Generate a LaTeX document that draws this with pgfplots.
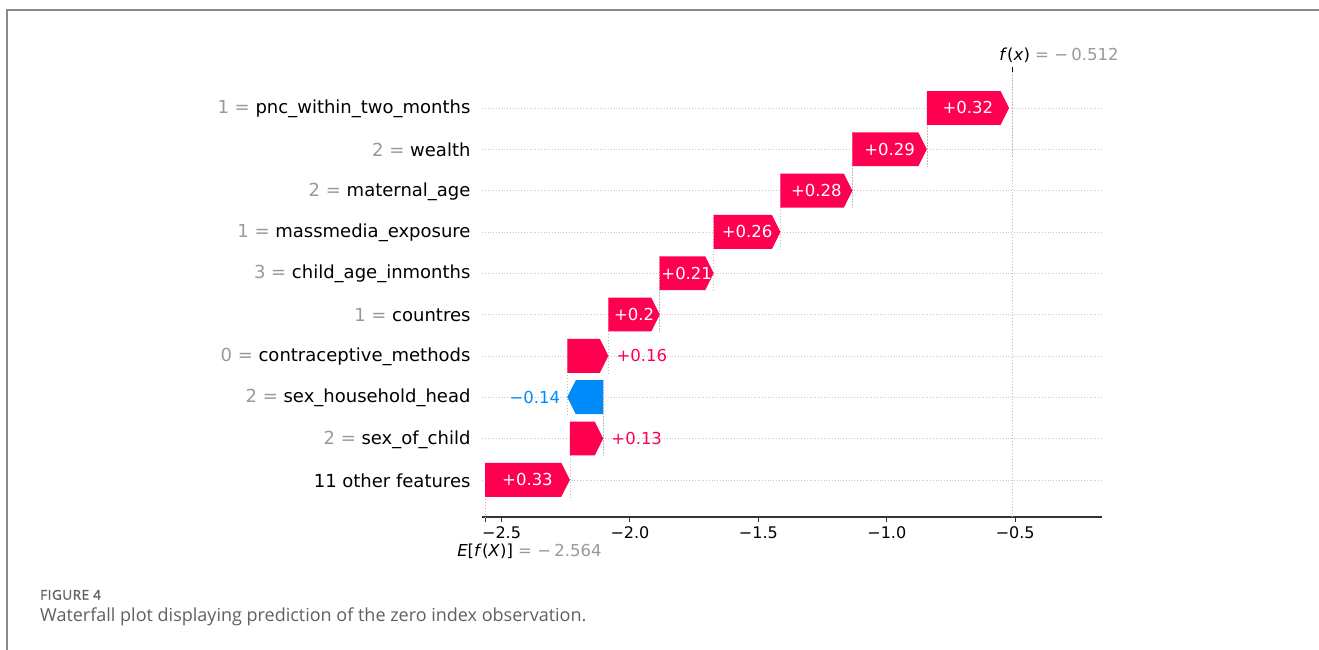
\documentclass[border=0pt]{standalone}
\usepackage{fontspec}
\setmainfont{DejaVu Sans}
\newfontfamily\capfamily{Open Sans}
\newfontfamily\capheadfamily[FakeBold=1.5, LetterSpace=4]{Open Sans}
\usepackage{pgfplots}
\usepackage{pgfplotstable}
\pgfplotsset{compat=1.18}

\definecolor{shapred}{HTML}{FF0051}
\definecolor{shapblue}{HTML}{008BFB}
\definecolor{valgray}{HTML}{999999}
\definecolor{linegray}{HTML}{BBBBBB}
\definecolor{gridgray}{HTML}{C8C8C8}
\definecolor{axisgray}{HTML}{333333}
\definecolor{framegray}{HTML}{8C8C8C}
\definecolor{capgray}{HTML}{606060}

\newcommand\rowfont{\fontsize{18}{21}\selectfont}
\newcommand\tickfont{\fontsize{16}{19}\selectfont}
\newcommand\valfont{\fontsize{16.5}{19}\selectfont}
\newcommand\capsmall{\capheadfamily\fontsize{13.5}{15}\selectfont}
\newcommand\capbig{\capfamily\fontsize{18}{21}\selectfont}

% SHAP contributions, bottom row (0) to top row (9)
% inside = 1: value printed inside the bar, 0: printed beside it
\pgfplotstableread{
row shap  inside txt
0   0.33  1      +0.33
1   0.13  0      +0.13
2   -0.14 0      −0.14
3   0.16  0      +0.16
4   0.20  1      +0.2
5   0.21  1      +0.21
6   0.26  1      +0.26
7   0.28  1      +0.28
8   0.29  1      +0.29
9   0.32  1      +0.32
}\shapdata

\def\basevalue{-2.564}
\def\fxvalue{-0.512}
\def\headlen{0.033}
\def\halfbar{0.41}

\tikzset{
  vallabel/.style={font=\valfont, inner sep=0pt},
}

\begin{document}
\begin{tikzpicture}
\path[use as bounding box] (0pt,0pt) rectangle (1319pt,-650pt);
\draw[framegray, line width=1.8pt] (7pt,-651pt) -- (7pt,-10pt) -- (1320pt,-10pt);

\begin{axis}[
  at={(482pt,-517pt)}, anchor=south west,
  scale only axis, width=620pt, height=445pt,
  xmin=-2.576, xmax=-0.162, ymin=-0.9, ymax=9.87,
  axis x line*=bottom, axis y line*=left,
  y axis line style={draw=none},
  x axis line style={color=axisgray, line width=1.3pt, -},
  xtick={-2.5,-2,-1.5,-1,-0.5},
  xticklabels={−2.5,−2.0,−1.5,−1.0,−0.5},
  extra x ticks={-2.564}, extra x tick labels={},
  xtick style={color=axisgray, line width=0.9pt},
  xtick align=outside,
  major tick length=4.5pt,
  xticklabel style={font=\tickfont, text=black, yshift=-2pt},
  ytick={0,...,9},
  yticklabels={
    {11 other features},
    {\textcolor{valgray}{2 = }sex\_of\_child},
    {\textcolor{valgray}{2 = }sex\_household\_head},
    {\textcolor{valgray}{0 = }contraceptive\_methods},
    {\textcolor{valgray}{1 = }countres},
    {\textcolor{valgray}{3 = }child\_age\_inmonths},
    {\textcolor{valgray}{1 = }massmedia\_exposure},
    {\textcolor{valgray}{2 = }maternal\_age},
    {\textcolor{valgray}{2 = }wealth},
    {\textcolor{valgray}{1 = }pnc\_within\_two\_months}},
  ytick style={draw=none},
  yticklabel style={font=\rowfont, text=black, anchor=east, xshift=-8pt, yshift=-1pt},
  ymajorgrids,
  major grid style={gridgray, line width=0.6pt, dash pattern=on 0.8pt off 2pt},
  clip=false,
]

% connector lines at the start of every bar
\def\cur{\basevalue}
\pgfplotsforeachungrouped \i in {0,...,9}{%
  \pgfplotstablegetelem{\i}{shap}\of\shapdata
  \let\v\pgfplotsretval
  \pgfmathsetmacro\s{\cur}%
  \pgfmathsetmacro\e{\cur+\v}%
  \pgfmathsetmacro\hi{\i+\halfbar}%
  \ifnum\i=0
    \def\lo{-0.9}%
  \else
    \pgfmathsetmacro\lo{\i-1-\halfbar}%
  \fi
  \edef\cmd{\noexpand\addplot[linegray, line width=0.6pt,
      dash pattern=on 1.5pt off 1.5pt, forget plot]
      coordinates {(\s,\hi) (\s,\lo)};}%
  \cmd
  \let\cur\e
}

% output value line
\addplot[linegray, line width=0.6pt, dash pattern=on 1.5pt off 1.5pt, forget plot]
  coordinates {(\fxvalue,-0.9) (\fxvalue,9.87)};

% arrow-shaped bars with their value labels
\def\cur{\basevalue}
\pgfplotsforeachungrouped \i in {0,...,9}{%
  \pgfplotstablegetelem{\i}{shap}\of\shapdata
  \let\v\pgfplotsretval
  \pgfplotstablegetelem{\i}{inside}\of\shapdata
  \let\ins\pgfplotsretval
  \pgfplotstablegetelem{\i}{txt}\of\shapdata
  \let\txt\pgfplotsretval
  \pgfmathsetmacro\s{\cur}%
  \pgfmathsetmacro\e{\cur+\v}%
  \pgfmathsetmacro\sg{\v<0 ? -1 : 1}%
  \pgfmathsetmacro\t{\e-\sg*\headlen}%
  \pgfmathsetmacro\lo{\i-\halfbar}%
  \pgfmathsetmacro\hi{\i+\halfbar}%
  \pgfmathsetmacro\m{(\s+\e)/2}%
  \ifdim\sg pt<0pt \def\col{shapblue}\else\def\col{shapred}\fi
  \edef\cmd{\noexpand\addplot[fill=\col, draw=none, forget plot]
      coordinates {(\s,\lo) (\t,\lo) (\e,\i) (\t,\hi) (\s,\hi) (\s,\lo)};}%
  \cmd
  \ifnum\ins=1
    \edef\cmd{\noexpand\node[vallabel, text=white, anchor=center]
        at (axis cs:\m,\i) {\txt};}%
  \else
    \ifdim\sg pt<0pt
      \edef\cmd{\noexpand\node[vallabel, text=\col, anchor=east, xshift=-7pt]
          at (axis cs:\e,\i) {\txt};}%
    \else
      \edef\cmd{\noexpand\node[vallabel, text=\col, anchor=west, xshift=8pt]
          at (axis cs:\e,\i) {\txt};}%
    \fi
  \fi
  \cmd
  \let\cur\e
}

% output tick and labels for f(x) and E[f(X)]
\draw[black, line width=0.9pt] (axis cs:\fxvalue,9.87) -- ++(0pt,5pt);
\node[anchor=west, inner sep=0pt, font=\valfont, xshift=-13pt, yshift=17pt]
  at (axis cs:\fxvalue,9.87)
  {\textit{f}(\textit{x}) \textcolor{valgray}{= −\hspace{0.2em}0.512}};
\node[anchor=west, inner sep=0pt, font=\valfont, xshift=-28pt, yshift=-34pt]
  at (axis cs:\basevalue,-0.9)
  {\textit{E}[\textit{f}(\textit{X})] \textcolor{valgray}{= −\hspace{0.2em}2.564}};
\end{axis}

\node[anchor=base west, inner sep=0pt, font=\capsmall, text=capgray] at (40pt,-599.7pt) {FIGURE 4};
\node[anchor=base west, inner sep=0pt, font=\capbig, text=capgray] at (40pt,-621pt)
  {Waterfall plot displaying prediction of the zero index observation.};
\end{tikzpicture}
\end{document}
